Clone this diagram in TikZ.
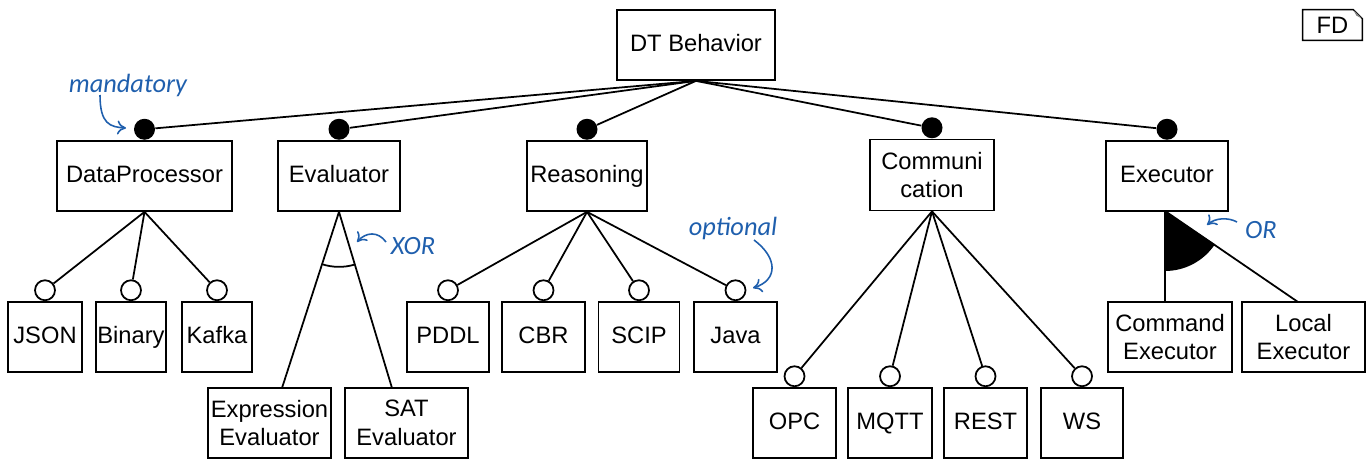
\documentclass[tikz,border=0pt]{standalone}
\usepackage{fontspec}
\setmainfont{Liberation Sans}
\newfontfamily\notefont{Carlito}
\usepackage{tikz}
\usetikzlibrary{arrows.meta}
\definecolor{notecol}{HTML}{1F5FAD}

\tikzset{
  feature/.style={draw, line width=1pt, inner sep=1pt, align=center,
    minimum height=1.4cm, font=\fontsize{13.5}{16.4}\selectfont,
    text height=1.75ex, text depth=0.45ex},
  twoline/.style={text height=, text depth=},
  mand/.style={circle, fill=black, inner sep=0pt, minimum size=0.42cm, anchor=south},
  opt/.style={circle, draw, line width=1pt, fill=white, inner sep=0pt, minimum size=0.4cm, anchor=south},
  link/.style={line width=1pt},
  notetext/.style={text=notecol, font=\notefont\itshape\fontsize{15}{16}\selectfont},
  notearrow/.style={notecol, line width=0.9pt, -{To[length=5pt,width=8pt]}}
}

\begin{document}
\begin{tikzpicture}[x=0.02cm, y=0.02cm]
      \useasboundingbox (0,0) rectangle (1369,-460);

      % Root feature and the diagram tag
      \node[feature, minimum width=3.16cm] (dt) at (696,-45) {DT Behavior};
      \node[font=\fontsize{13.5}{16}\selectfont, minimum width=1.18cm, minimum height=0.6cm] (fd) at (1332.5,-25) {FD};
      \draw[line width=0.8pt] (fd.north west) -- ([xshift=-0.18cm]fd.north east) -- ([yshift=-0.18cm]fd.north east) -- (fd.south east) -- (fd.south west) -- cycle;
      \fill[gray] ([xshift=-0.18cm]fd.north east) -- ([xshift=-0.12cm,yshift=-0.12cm]fd.north east) -- ([yshift=-0.18cm]fd.north east) -- cycle;

      % First level features
      \node[feature, minimum width=3.5cm] (dp) at (144.5,-176) {DataProcessor};
      \node[feature, minimum width=2.44cm] (eval) at (339,-176) {Evaluator};
      \node[feature, minimum width=2.4cm] (reas) at (587,-176) {Reasoning};
      \node[feature, twoline, minimum width=2.48cm, minimum height=1.42cm] (comm) at (932,-175) {Communi\\cation};
      \node[feature, minimum width=2.44cm] (exec) at (1167,-176) {Executor};

      % Mandatory markers
      \node[mand] (dpm) at (dp.north) {};
      \node[mand] (evalm) at (eval.north) {};
      \node[mand] (reasm) at (reas.north) {};
      \node[mand] (commm) at (comm.north) {};
      \node[mand] (execm) at (exec.north) {};
      \foreach \m in {dpm, evalm, reasm, commm, execm}
        \draw[link] (dt.south) -- (\m);

      % DataProcessor children
      \node[feature, minimum width=1.48cm] (json) at (45,-337) {JSON};
      \node[feature, minimum width=1.4cm] (binary) at (131,-337) {Binary};
      \node[feature, minimum width=1.4cm] (kafka) at (217,-337) {Kafka};
      \node[opt] (jsono) at (json.north) {};
      \node[opt] (binaryo) at (binary.north) {};
      \node[opt] (kafkao) at (kafka.north) {};
      \foreach \c in {jsono, binaryo, kafkao}
        \draw[link] (dp.south) -- (\c);

      % Evaluator children (xor group)
      \node[feature, twoline, minimum width=2.46cm] (expr) at (269.5,-423) {Expression\\Evaluator};
      \node[feature, twoline, minimum width=2.46cm] (sat) at (406.5,-423) {SAT\\Evaluator};
      \coordinate (exprtop) at (282,-388);
      \coordinate (sattop) at (392,-388);
      \draw[link] (eval.south) -- (exprtop);
      \draw[link] (eval.south) -- (sattop);
      \draw[link] ([shift={(-108.1:1.1cm)}]eval.south) arc[start angle=-108.1, end angle=-73.6, radius=1.1cm];

      % Reasoning children
      \node[feature, minimum width=1.64cm] (pddl) at (448,-337) {PDDL};
      \node[feature, minimum width=1.66cm] (cbr) at (543.5,-337) {CBR};
      \node[feature, minimum width=1.62cm] (scip) at (639,-337) {SCIP};
      \node[feature, minimum width=1.66cm] (java) at (735.5,-337) {Java};
      \node[opt] (pddlo) at (pddl.north) {};
      \node[opt] (cbro) at (cbr.north) {};
      \node[opt] (scipo) at (scip.north) {};
      \node[opt] (javao) at (java.north) {};
      \foreach \c in {pddlo, cbro, scipo, javao}
        \draw[link] (reas.south) -- (\c);

      % Communication children
      \node[feature, minimum width=1.66cm] (opc) at (794.5,-423) {OPC};
      \node[feature, minimum width=1.68cm] (mqtt) at (890,-423) {MQTT};
      \node[feature, minimum width=1.66cm] (rest) at (985.5,-423) {REST};
      \node[feature, minimum width=1.64cm] (ws) at (1082,-423) {WS};
      \node[opt] (opco) at (opc.north) {};
      \node[opt] (mqtto) at (mqtt.north) {};
      \node[opt] (resto) at (rest.north) {};
      \node[opt] (wso) at (ws.north) {};
      \foreach \c in {opco, mqtto, resto, wso}
        \draw[link] (comm.south) -- (\c);

      % Executor children (or group)
      \node[feature, twoline, minimum width=2.48cm] (cmd) at (1170,-337) {Command\\Executor};
      \node[feature, twoline, minimum width=2.46cm] (local) at (1303.5,-337) {Local\\Executor};
      \coordinate (execapex) at (1165,-211);
      \fill (execapex) -- ++(-90:1.2cm) arc[start angle=-90, end angle=-33.7, radius=1.2cm] -- cycle;
      \draw[link] (execapex) -- (execapex |- cmd.north);
      \draw[link] (execapex) -- (1298,-302);

      % Notes
      \node[notetext] (mandtxt) at (128,-85) {mandatory};
      \coordinate (mandto) at (126,-128);
      \draw[notearrow] (100,-95) .. controls (100,-124) and (110,-127) .. (mandto);

      \node[notetext] (xortxt) at (413,-246) {XOR};
      \coordinate (xorto) at (357,-242);
      \draw[notearrow] (386,-242) .. controls (378,-231) and (366,-232) .. (xorto);

      \node[notetext] (opttxt) at (733,-228) {optional};
      \coordinate (optto) at (753,-288);
      \draw[notearrow] (754,-240) .. controls (778,-258) and (778,-280) .. (optto);

      \node[notetext] (ortxt) at (1261,-230) {OR};
      \coordinate (orto) at (1207,-225);
      \draw[notearrow] (1237,-222) .. controls (1228,-217) and (1215,-218) .. (orto);
\end{tikzpicture}
\end{document}
